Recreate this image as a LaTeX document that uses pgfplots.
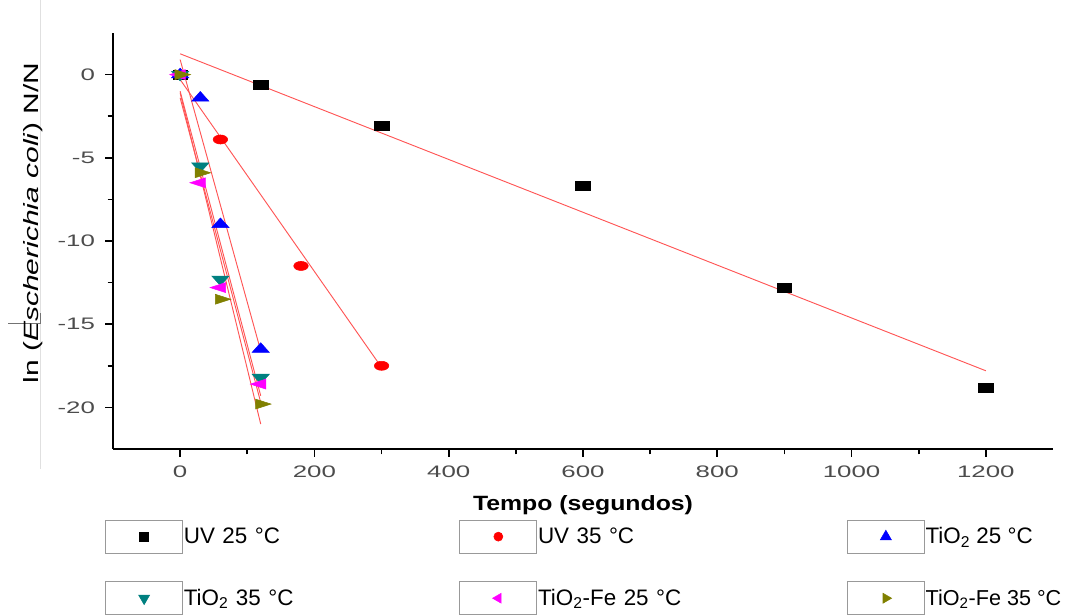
\documentclass[border=0pt]{standalone}
\usepackage{fontspec}
\setmainfont{Liberation Sans}
\newfontfamily\tickfont[FakeStretch=1.55]{Liberation Sans}
\newfontfamily\ylabfont[FakeStretch=1.45]{Liberation Sans}
\newfontfamily\xlabfont[FakeStretch=1.2]{Liberation Sans}
\usepackage{pgfplots}
\pgfplotsset{compat=1.18}
\definecolor{fitred}{RGB}{255,85,85}
\definecolor{mteal}{RGB}{0,128,128}
\definecolor{mmag}{RGB}{255,0,255}
\definecolor{molive}{RGB}{128,128,0}
\pgfplotsset{
  boxlegend/.style={legend image code/.code={
    \draw[black!40, line width=0.9pt, fill=white] (0pt,-12.4pt) rectangle (57.75pt,12.4pt);
    \draw[##1, mark options={#1}] plot coordinates {(28.9pt,0pt)};
  }},
  boxlegend/.default={},
}
\begin{document}
\begin{tikzpicture}
\useasboundingbox (0,0) rectangle (800.25pt,462pt);
\draw[black!12, line width=0.5pt] (30pt,462pt) -- (30pt,110pt);
\draw[black!55, line width=0.5pt] (6pt,219.75pt) -- (30pt,219.75pt) -- (30pt,227pt);
\begin{axis}[
  at={(84.75pt,125.25pt)}, anchor=south west,
  scale only axis, width=705pt, height=312pt,
  xmin=-100, xmax=1300, ymin=-22.5, ymax=2.5,
  axis x line*=bottom, axis y line*=left,
  axis line style={-, line width=1.8pt, black},
  tick align=outside,
  xtick={0,200,...,1200}, ytick={-20,-15,...,0},
  minor x tick num=1, minor y tick num=1,
  major tick length=6pt, minor tick length=4pt,
  every tick/.style={black, line width=1.3pt},
  tick label style={font=\tickfont\fontsize{12.5}{14}\selectfont, color=black!70},
  xticklabel style={yshift=-3pt},
  yticklabel style={xshift=-4pt},
  /pgf/number format/assume math mode=true,
  /pgf/number format/1000 sep={},
  xlabel={Tempo (segundos)},
  xlabel style={font=\xlabfont\bfseries\fontsize{15.5}{17}\selectfont, at={(axis description cs:0.5,-0.135)}, anchor=center},
  ylabel={ln (\textit{Escherichia coli}) N/N},
  ylabel style={font=\ylabfont\fontsize{15.5}{17}\selectfont, at={(axis description cs:-0.0851,0.543)}, anchor=center},
  legend columns=3,
  legend cell align=left,
  legend style={at={(axis description cs:-0.0085,-0.1695)}, anchor=north west,
    draw=none, fill=none, inner sep=0pt, outer sep=0pt,
    /tikz/row sep=20.5pt, /tikz/column sep=0pt,
    font=\fontsize{16.8}{18}\selectfont,
    nodes={inner xsep=0.5pt, inner ysep=0pt, anchor=west},
    /tikz/column 2/.style={nodes={text width=206pt}},
    /tikz/column 4/.style={nodes={text width=231pt}}},
]
% fitted lines
\addplot[fitred, line width=0.7pt, forget plot] coordinates {(0,1.25) (1200,-17.8)};
\addplot[fitred, line width=0.7pt, forget plot] coordinates {(0,-0.3) (300,-17.6)};
\addplot[fitred, line width=0.7pt, forget plot] coordinates {(0,0.9) (120,-16.6)};
\addplot[fitred, line width=0.7pt, forget plot] coordinates {(0,-1.0) (120,-19.3)};
\addplot[fitred, line width=0.7pt, forget plot] coordinates {(0,-1.4) (120,-19.7)};
\addplot[fitred, line width=0.7pt, forget plot] coordinates {(0,-1.1) (120,-21.0)};
% data
\addplot[only marks, mark=square*, black, mark size=3.4pt, mark options={xscale=1.6}, boxlegend]
  coordinates {(0,0) (120,-0.6) (300,-3.1) (600,-6.7) (900,-12.8) (1200,-18.8)};
\addlegendentry{UV 25 °C}
\addplot[only marks, mark=*, red, mark size=3.4pt, mark options={xscale=1.6}, boxlegend]
  coordinates {(0,0) (60,-3.9) (180,-11.5) (300,-17.5)};
\addlegendentry{UV 35 °C}
\addplot[only marks, mark=triangle*, blue, mark size=4.8pt, mark options={xscale=1.55}, boxlegend]
  coordinates {(0,0) (30,-1.4) (60,-9.0) (120,-16.5)};
\addlegendentry{TiO\textsubscript{2} 25 °C}
\addplot[only marks, mark=triangle*, mteal, mark size=4.8pt, mark options={xscale=1.55, rotate=180}, boxlegend={rotate=180}]
  coordinates {(0,0) (30,-5.5) (60,-12.3) (120,-18.2)};
\addlegendentry{TiO\textsubscript{2} 35 °C}
\addplot[only marks, mark=triangle*, mmag, mark size=4.3pt, mark options={xscale=1.8, rotate=90}, boxlegend={rotate=90}]
  coordinates {(0,0) (30,-6.5) (60,-12.8) (120,-18.6)};
\addlegendentry{TiO\textsubscript{2}-Fe 25 °C}
\addplot[only marks, mark=triangle*, molive, mark size=4.3pt, mark options={xscale=1.8, rotate=-90}, boxlegend={rotate=-90}]
  coordinates {(0,0) (30,-5.9) (60,-13.5) (120,-19.8)};
\addlegendentry{\fontsize{16.2}{18}\selectfont TiO\textsubscript{2}-Fe 35 °C}
\end{axis}
\end{tikzpicture}
\end{document}
